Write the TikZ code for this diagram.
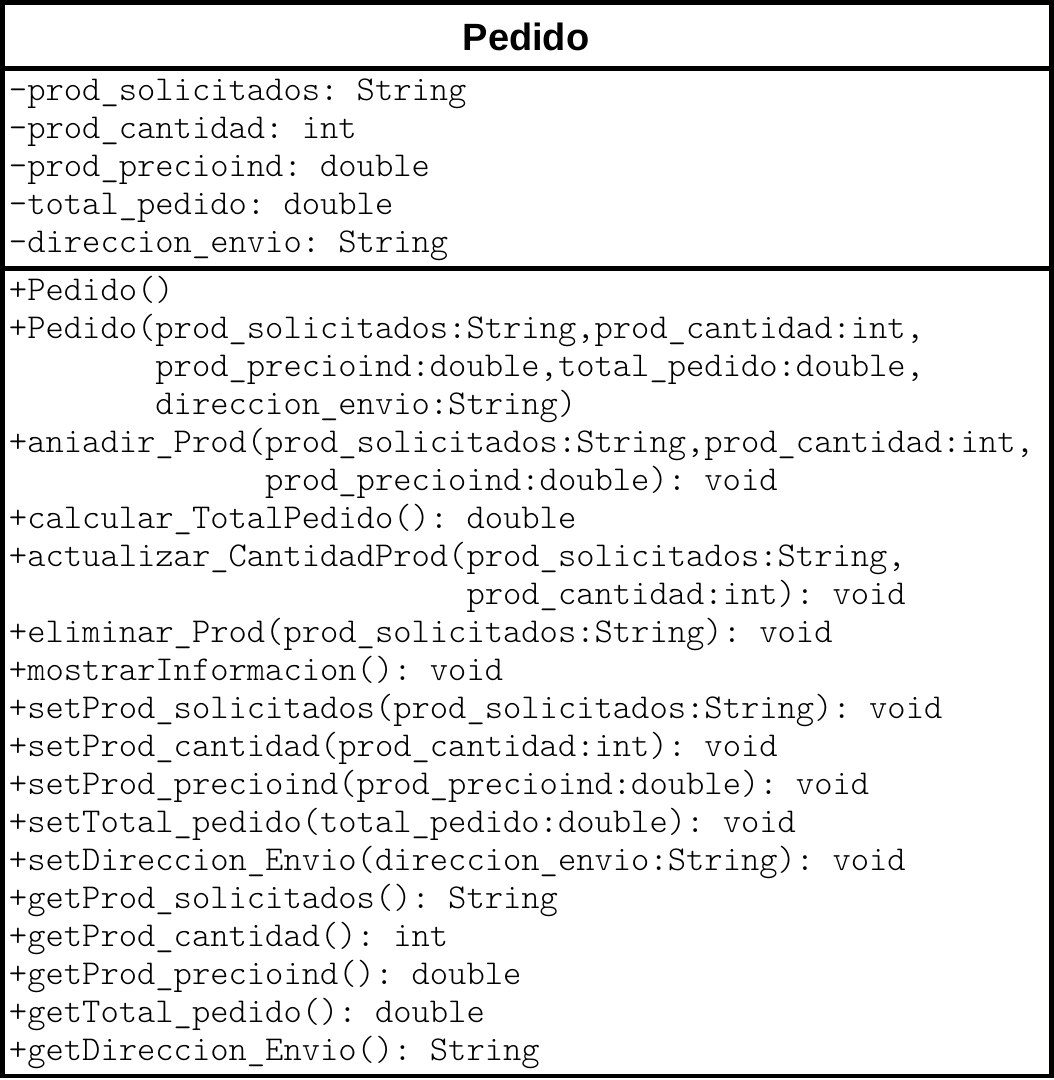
\documentclass[tikz,border=0pt]{standalone}
\usepackage{fontspec}
\newfontfamily\titlefont{Liberation Sans}
\usetikzlibrary{positioning}

\tikzset{
  classline/.style={line width=4.5pt},
  membertext/.style={anchor=base west, inner sep=0, outer sep=0,
    font=\ttfamily\fontseries{l}\fontsize{34.86}{38}\selectfont\frenchspacing},
  classname/.style={anchor=base, inner sep=0,
    font=\titlefont\bfseries\fontsize{38}{44}\selectfont}
}

\begin{document}
\begin{tikzpicture}[x=1pt,y=-1pt]
    \useasboundingbox (0,0) rectangle (1054,1080);
    % class box and compartments
    \draw[classline] (2.5,2.5) rectangle (1051.5,1076);
    \draw[classline] (2.5,68.5) -- (1051.5,68.5);
    \draw[classline] (2.5,268.5) -- (1051.5,268.5);
    \node[classname] (name) at (526,50) {Pedido};
    % attributes
    \foreach \txt [count=\i] in {
      {-prod\_solicitados: String},
      {-prod\_cantidad: int},
      {-prod\_precioind: double},
      {-total\_pedido: double},
      {-direccion\_envio: String}}
      \node[membertext] (attr\i) at (9,{100+38*(\i-1)}) {\txt};
    % operations
    \foreach \txt [count=\i] in {
      {+Pedido()},
      {+Pedido(prod\_solicitados:String,prod\_cantidad:int,},
      {\hphantom{+Pedido(}prod\_precioind:double,total\_pedido:double,},
      {\hphantom{+Pedido(}direccion\_envio:String)},
      {+aniadir\_Prod(prod\_solicitados:String,prod\_cantidad:int,},
      {\hphantom{+aniadir\_Prod(}prod\_precioind:double): void},
      {+calcular\_TotalPedido(): double},
      {+actualizar\_CantidadProd(prod\_solicitados:String,},
      {\hphantom{+actualizar\_CantidadProd(}prod\_cantidad:int): void},
      {+eliminar\_Prod(prod\_solicitados:String): void},
      {+mostrarInformacion(): void},
      {+setProd\_solicitados(prod\_solicitados:String): void},
      {+setProd\_cantidad(prod\_cantidad:int): void},
      {+setProd\_precioind(prod\_precioind:double): void},
      {+setTotal\_pedido(total\_pedido:double): void},
      {+setDireccion\_Envio(direccion\_envio:String): void},
      {+getProd\_solicitados(): String},
      {+getProd\_cantidad(): int},
      {+getProd\_precioind(): double},
      {+getTotal\_pedido(): double},
      {+getDireccion\_Envio(): String}}
      \node[membertext] (op\i) at (9,{300+38*(\i-1)}) {\txt};
\end{tikzpicture}
\end{document}
